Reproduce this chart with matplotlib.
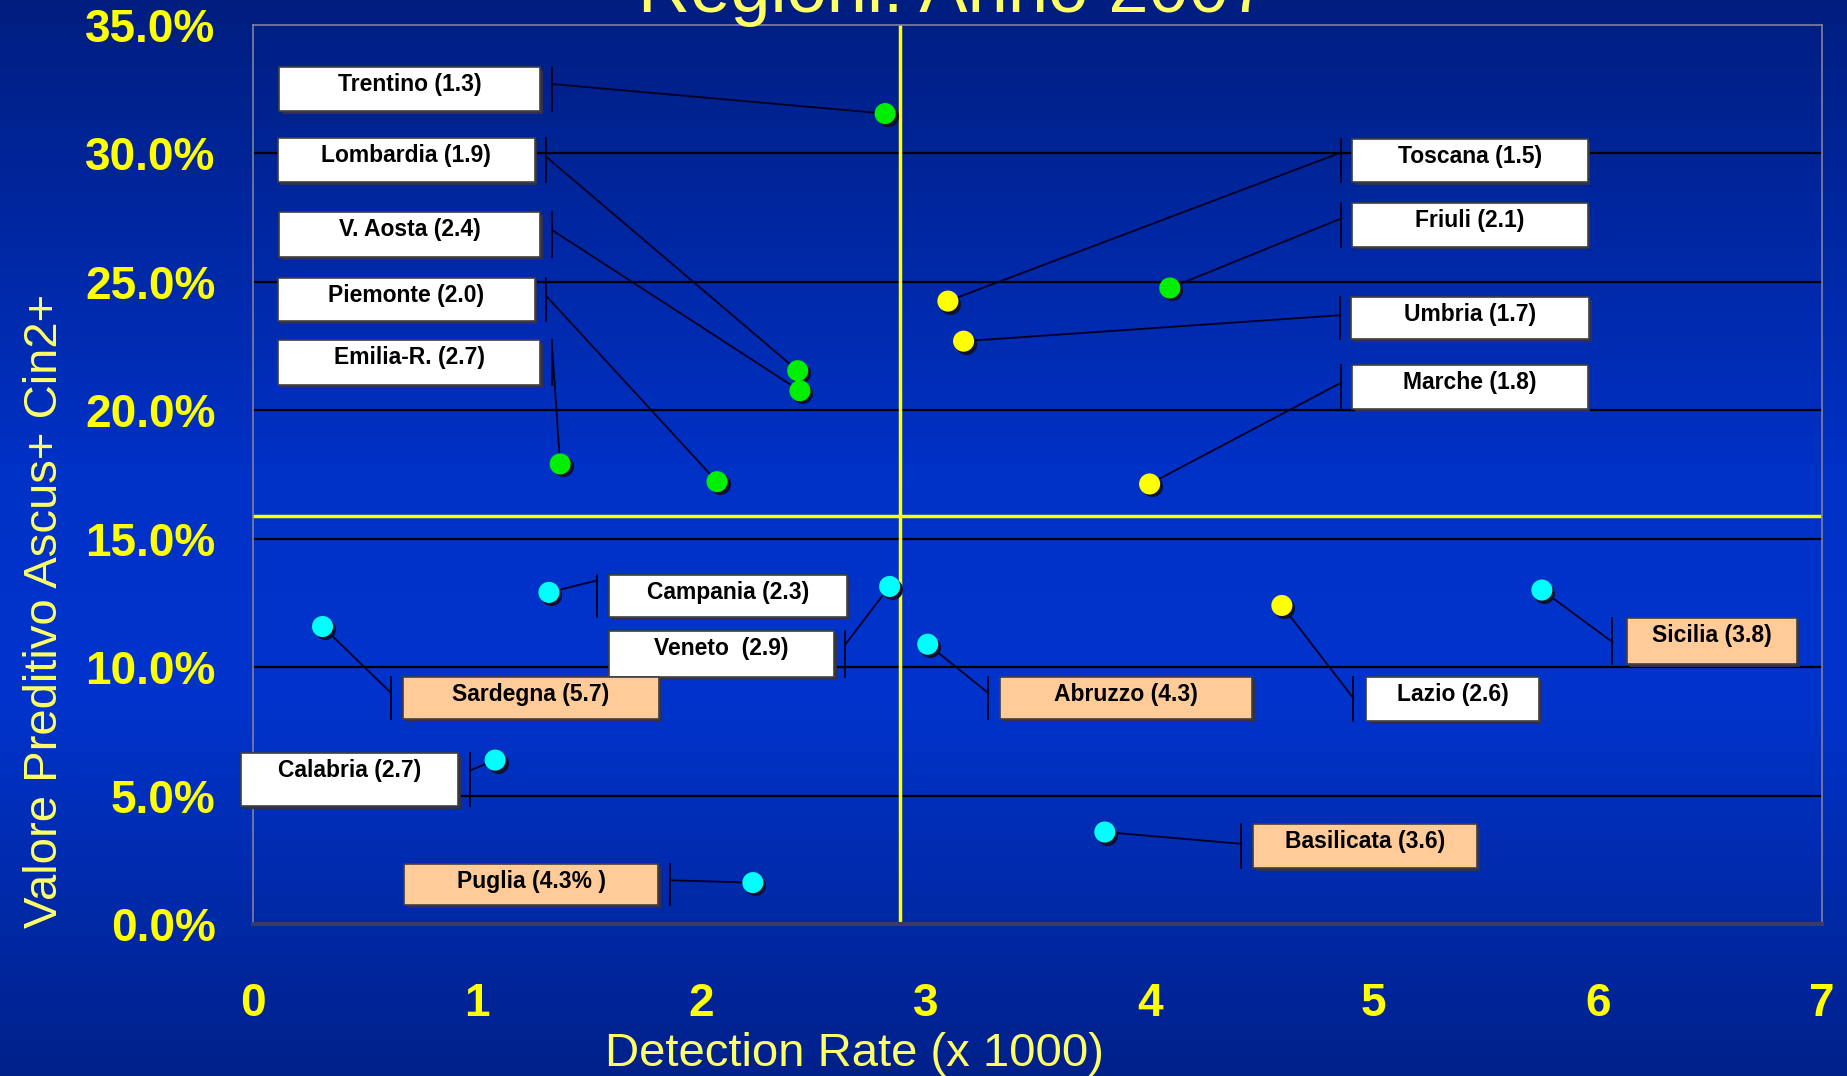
import numpy as np
import matplotlib.pyplot as plt
from matplotlib.patches import Rectangle
from matplotlib import patheffects as pe
import matplotlib.transforms as mtransforms

# --- data ---
regions = ["Trentino", "Lombardia", "V. Aosta", "Piemonte", "Emilia-R.", "Friuli",
           "Toscana", "Umbria", "Marche", "Lazio",
           "Campania", "Veneto", "Sardegna", "Abruzzo", "Sicilia", "Calabria",
           "Basilicata", "Puglia"]
det_rate = [2.82, 2.43, 2.44, 2.07, 1.37, 4.09,
            3.10, 3.17, 4.00, 4.59,
            1.32, 2.84, 0.31, 3.01, 5.75, 1.08, 3.80, 2.23]
vpp = [31.55, 21.54, 20.76, 17.22, 17.91, 24.76,
       24.25, 22.69, 17.13, 12.40,
       12.91, 13.14, 11.58, 10.89, 13.00, 6.38, 3.58, 1.61]
group = ["N", "N", "N", "N", "N", "N",
         "C", "C", "C", "C",
         "S", "S", "S", "S", "S", "S", "S", "S"]
ratio = [1.3, 1.9, 2.4, 2.0, 2.7, 2.1,
         1.5, 1.7, 1.8, 2.6,
         2.3, 2.9, 5.7, 4.3, 3.8, 2.7, 3.6, 4.3]
labels = ["Trentino (1.3)", "Lombardia (1.9)", "V. Aosta (2.4)", "Piemonte (2.0)",
          "Emilia-R. (2.7)", "Friuli (2.1)",
          "Toscana (1.5)", "Umbria (1.7)", "Marche (1.8)", "Lazio (2.6)",
          "Campania (2.3)", "Veneto  (2.9)", "Sardegna (5.7)", "Abruzzo (4.3)",
          "Sicilia (3.8)", "Calabria (2.7)", "Basilicata (3.6)", "Puglia (4.3% )"]
ref_rate = 2.885
ref_vpp = 15.89
y_ticks = [0, 5, 10, 15, 20, 25, 30, 35]
x_ticks = [0, 1, 2, 3, 4, 5, 6, 7]

# --- label box layout: x0, x1, ytop, ybottom, x of leader tick, y where leader starts ---
boxes = {
    "Trentino":   (0.116, 1.282, 33.35, 31.65, 1.335, 32.70),
    "Lombardia":  (0.110, 1.256, 30.59, 28.89, 1.309, 29.86),
    "V. Aosta":   (0.116, 1.282, 27.70, 25.95, 1.335, 27.01),
    "Piemonte":   (0.110, 1.256, 25.13, 23.47, 1.309, 24.44),
    "Emilia-R.":  (0.110, 1.282, 22.74, 20.99, 1.335, 22.37),
    "Friuli":     (4.903, 5.954, 28.07, 26.37, 4.856, 27.47),
    "Toscana":    (4.903, 5.954, 30.55, 28.89, 4.856, 30.04),
    "Umbria":     (4.898, 5.959, 24.39, 22.78, 4.851, 23.70),
    "Marche":     (4.903, 5.954, 21.77, 20.03, 4.856, 21.08),
    "Lazio":      (4.966, 5.739, 9.60, 7.90, 4.908, 8.80),
    "Campania":   (1.587, 2.649, 13.60, 11.94, 1.534, 13.37),
    "Veneto":     (1.587, 2.591, 11.39, 9.60, 2.643, 10.89),
    "Sardegna":   (0.667, 1.813, 9.60, 7.99, 0.615, 9.00),
    "Abruzzo":    (3.332, 4.456, 9.60, 7.99, 3.279, 9.00),
    "Sicilia":    (6.128, 6.890, 11.90, 10.11, 6.064, 10.98),
    "Calabria":   (-0.053, 0.914, 6.66, 4.59, 0.967, 5.97),
    "Basilicata": (4.462, 5.460, 3.90, 2.16, 4.409, 3.12),
    "Puglia":     (0.673, 1.808, 2.34, 0.73, 1.860, 1.70),
}
dot_colors = {"N": "#00ee00", "C": "#ffff00", "S": "#00ffff"}

plt.rcParams['font.family'] = ['Liberation Sans', 'DejaVu Sans']

fig = plt.figure(figsize=(18.47, 10.76), dpi=100)

# gradient background
bg = fig.add_axes([0, 0, 1, 1])
stops = np.array([0.0, 0.45, 0.65, 1.0])
cols = np.array([[0, 30, 128], [0, 50, 200], [0, 52, 204], [0, 33, 138]]) / 255.0
t = np.linspace(0, 1, 400)
grad = np.stack([np.interp(t, stops, cols[:, k]) for k in range(3)], axis=1)
bg.imshow(grad[:, None, :], aspect='auto', extent=[0, 1, 0, 1])
bg.set_axis_off()

ax = fig.add_axes([0.1370, 0.1413, 0.8495, 0.8355])
ax.patch.set_alpha(0)
ax.set_xlim(0, 7)
ax.set_ylim(0, 35)

for s in ["left", "top", "right"]:
    ax.spines[s].set_color("#8080a0")
    ax.spines[s].set_linewidth(1.2)
ax.spines["bottom"].set_color("#3a3a66")
ax.spines["bottom"].set_linewidth(3)

for yv in y_ticks[1:-1]:
    ax.axhline(yv, color="black", lw=1.6, zorder=1)
ax.axhline(ref_vpp, color="#ffff00", lw=2.5, zorder=2)
ax.axvline(ref_rate, color="#ffff00", lw=2.5, zorder=2)

ax.set_xticks(x_ticks)
ax.set_xticklabels([str(v) for v in x_ticks])
ax.set_yticks(y_ticks)
ax.set_yticklabels(["%.1f%%" % v for v in y_ticks])
ax.tick_params(length=0, labelcolor="#ffff00", labelsize=33)
ax.tick_params(axis="x", pad=42)
ax.tick_params(axis="y", pad=27)
for lab in ax.get_xticklabels() + ax.get_yticklabels():
    lab.set_fontweight("bold")

# label boxes and leader lines
for name, lab, x, y, r in zip(regions, labels, det_rate, vpp, ratio):
    x0, x1, yt, yb, xt, yl = boxes[name]
    face = "#ffcc99" if r >= 3.5 else "white"
    rect = Rectangle((x0, yb), x1 - x0, yt - yb, facecolor=face, edgecolor="#404040",
                     lw=1.2, zorder=5, clip_on=False,
                     path_effects=[pe.SimplePatchShadow(offset=(2, -2), shadow_rgbFace="#303050", alpha=1),
                                   pe.Normal()])
    ax.add_patch(rect)
    ax.text((x0 + x1) / 2, yt - 0.68, lab, ha="center", va="center", fontsize=16.5,
            fontweight="bold", color="black", zorder=6, clip_on=False)
    ax.plot([xt, xt], [yb, yt], color="#000022", lw=1.3, zorder=4, clip_on=False)
    ax.plot([xt, x], [yl, y], color="#000022", lw=1.3, zorder=4)

# dots with drop shadow
shadow = mtransforms.offset_copy(ax.transData, fig=fig, x=2.5, y=-2.5, units="dots")
c = [dot_colors[g] for g in group]
ax.scatter(det_rate, vpp, s=230, color="#101030", transform=shadow, zorder=7, lw=0)
ax.scatter(det_rate, vpp, s=230, color=c, zorder=8, lw=0)

fig.text(854 / 1847, 1 - 1054 / 1076, "Detection Rate (x 1000)", ha="center", va="center",
         fontsize=34, color="#ffff66")
fig.text(45 / 1847, 1 - 611 / 1076, "Valore Preditivo Ascus+ Cin2+", ha="center", va="center",
         rotation=90, fontsize=34, color="#ffff66")
fig.text(954 / 1847, 0.9884, "Regioni. Anno 2007", ha="center", va="baseline",
         fontsize=52, color="#ffff66")

plt.savefig("out.png", dpi=100)
